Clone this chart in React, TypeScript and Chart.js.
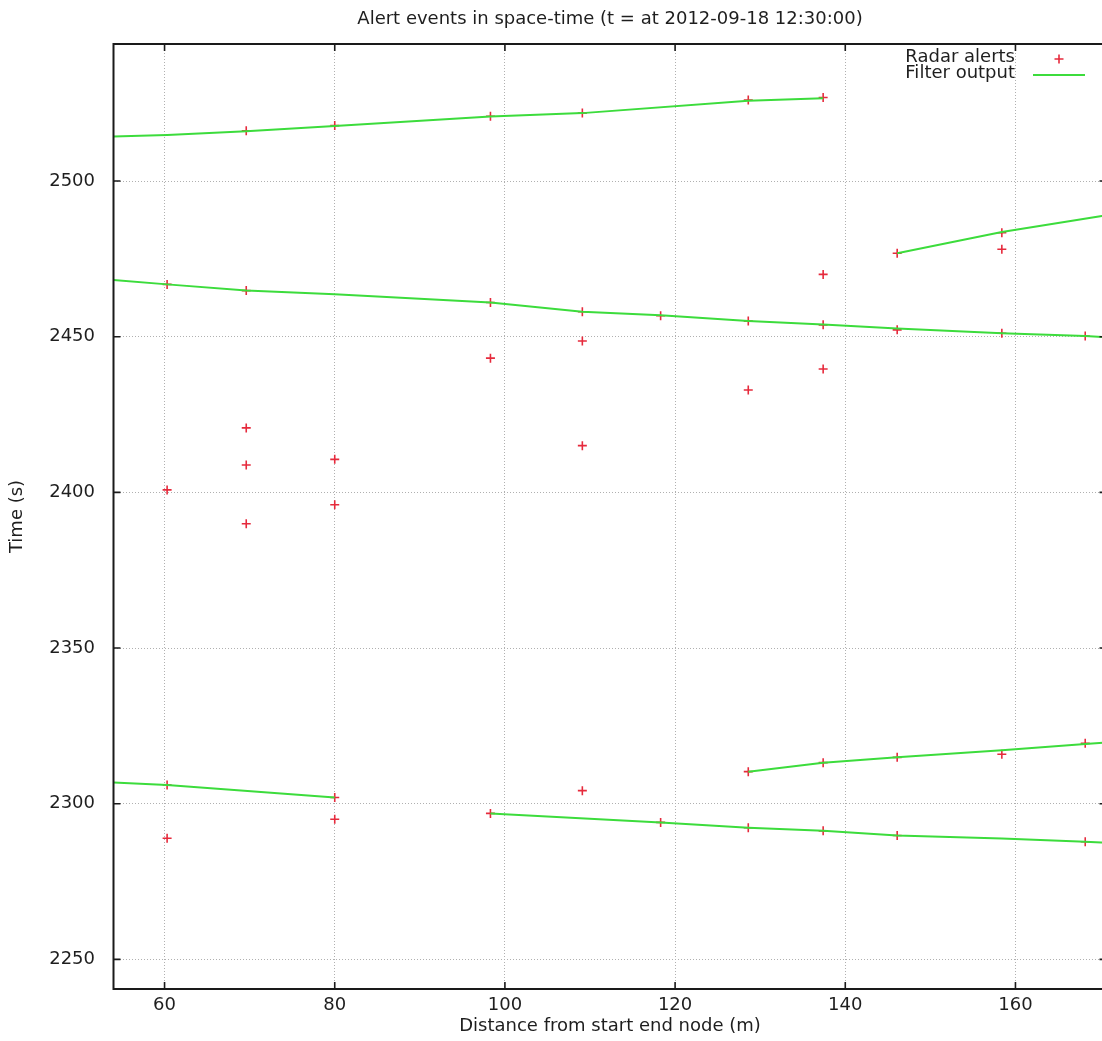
import { useEffect, useRef } from "react";
import { Chart, registerables } from "chart.js";

Chart.register(...registerables);

const xTicks = [60, 80, 100, 120, 140, 160];
const yTicks = [2250, 2300, 2350, 2400, 2450, 2500];

const alertDist = [
  69.6, 80.0, 98.3, 109.1, 128.6, 137.4,
  60.3, 69.6, 98.3, 109.1, 118.3, 128.6, 137.4, 146.1, 158.4, 168.2,
  146.1, 158.4, 158.4, 137.4, 137.4, 128.6, 109.1, 109.1, 98.3,
  80.0, 69.6, 69.6, 69.6, 80.0, 60.3,
  60.3, 80.0, 60.3, 80.0, 109.1,
  98.3, 118.3, 128.6, 137.4, 146.1, 168.2,
  128.6, 137.4, 146.1, 158.4, 168.2,
];
const alertTime = [
  2516.1, 2517.8, 2520.8, 2521.8, 2526.0, 2526.8,
  2466.8, 2464.8, 2461.0, 2458.0, 2456.7, 2455.0, 2453.8, 2452.2, 2451.1, 2450.2,
  2476.8, 2483.4, 2478.1, 2470.0, 2439.6, 2432.9, 2448.6, 2415.0, 2443.1,
  2410.6, 2420.7, 2408.8, 2389.9, 2396.0, 2400.8,
  2306.0, 2302.0, 2288.9, 2295.0, 2304.2,
  2296.9, 2294.0, 2292.3, 2291.3, 2289.8, 2287.8,
  2310.3, 2313.2, 2314.9, 2315.9, 2319.4,
];

const track1Dist = [54, 60.3, 69.6, 80.0, 98.3, 109.1, 128.6, 137.4];
const track1Time = [2514.3, 2514.8, 2516.0, 2517.7, 2520.7, 2521.8, 2525.8, 2526.6];

const track2Dist = [54, 60.3, 69.6, 80.0, 98.3, 109.1, 118.3, 128.6, 137.4, 146.1, 158.4, 168.2, 170.7];
const track2Time = [2468.2, 2466.8, 2464.8, 2463.6, 2461.0, 2458.0, 2456.9, 2455.0, 2453.9, 2452.6, 2451.1, 2450.2, 2449.8];

const track3Dist = [146.1, 158.4, 170.7];
const track3Time = [2476.8, 2483.6, 2489.0];

const track4Dist = [54, 60.3, 80.0];
const track4Time = [2306.8, 2306.0, 2302.0];

const track5Dist = [98.3, 118.3, 128.6, 137.4, 146.1, 158.4, 168.2, 170.7];
const track5Time = [2296.9, 2294.0, 2292.3, 2291.3, 2289.8, 2288.8, 2287.8, 2287.5];

const track6Dist = [128.6, 137.4, 146.1, 158.4, 168.2, 170.7];
const track6Time = [2310.3, 2313.2, 2314.9, 2317.2, 2319.2, 2319.7];

const tracks = [
  [track1Dist, track1Time],
  [track2Dist, track2Time],
  [track3Dist, track3Time],
  [track4Dist, track4Time],
  [track5Dist, track5Time],
  [track6Dist, track6Time],
];

const FONT = "'DejaVu Sans', sans-serif";
const TEXT = "#1e1e1e";
const RED = "#e62a3c";
const GREEN = "#3cdc3c";

const zip = (xs: number[], ys: number[]) => xs.map((x, i) => ({ x, y: ys[i] }));

export default function App() {
  const ref = useRef<HTMLCanvasElement>(null);

  useEffect(() => {
    if (!ref.current) return;

    const framePlugin = {
      id: "gnuFrame",
      afterDatasetsDraw(chart: any) {
        const { ctx, chartArea: a, scales } = chart;
        ctx.save();
        ctx.strokeStyle = "#1a1a1a";
        ctx.lineWidth = 1.6;
        ctx.beginPath();
        for (const t of xTicks) {
          const px = scales.x.getPixelForValue(t);
          ctx.moveTo(px, a.bottom);
          ctx.lineTo(px, a.bottom - 7);
          ctx.moveTo(px, a.top);
          ctx.lineTo(px, a.top + 7);
        }
        for (const t of yTicks) {
          const py = scales.y.getPixelForValue(t);
          ctx.moveTo(a.left, py);
          ctx.lineTo(a.left + 7, py);
          ctx.moveTo(a.right, py);
          ctx.lineTo(a.right - 7, py);
        }
        ctx.stroke();
        ctx.lineWidth = 2;
        ctx.strokeRect(a.left, a.top, a.right - a.left, a.bottom - a.top);
        ctx.restore();
      },
      afterDraw(chart: any) {
        const { ctx, chartArea: a } = chart;
        const tx = a.right - 91.5;
        ctx.save();
        ctx.font = `18px ${FONT}`;
        ctx.fillStyle = TEXT;
        ctx.textAlign = "right";
        ctx.textBaseline = "middle";
        ctx.fillText("Radar alerts", tx, a.top + 13);
        ctx.fillText("Filter output", tx, a.top + 29.5);
        const cx = a.right - 47.5;
        const cy = a.top + 15;
        ctx.strokeStyle = RED;
        ctx.lineWidth = 1.6;
        ctx.beginPath();
        ctx.moveTo(cx - 4.5, cy);
        ctx.lineTo(cx + 4.5, cy);
        ctx.moveTo(cx, cy - 4.5);
        ctx.lineTo(cx, cy + 4.5);
        ctx.stroke();
        ctx.strokeStyle = GREEN;
        ctx.lineWidth = 2;
        ctx.beginPath();
        ctx.moveTo(a.right - 73.5, a.top + 31);
        ctx.lineTo(a.right - 21.5, a.top + 31);
        ctx.stroke();
        ctx.restore();
      },
    };

    const lineSets = tracks.map(([xs, ys], i) => ({
      type: "line" as const,
      label: i === 0 ? "Filter output" : "",
      data: zip(xs, ys),
      borderColor: GREEN,
      backgroundColor: GREEN,
      borderWidth: 2,
      pointRadius: 0,
      showLine: true,
      fill: false,
      tension: 0,
      order: 0,
    }));

    const chart = new Chart(ref.current, {
      type: "scatter",
      data: {
        datasets: [
          {
            type: "scatter",
            label: "Radar alerts",
            data: zip(alertDist, alertTime),
            pointStyle: "cross",
            pointRadius: 4.5,
            borderColor: RED,
            backgroundColor: RED,
            borderWidth: 1.6,
            order: 1,
          } as any,
          ...lineSets,
        ],
      },
      options: {
        responsive: false,
        animation: false,
        layout: { padding: { left: 0, right: 13.5, top: 0, bottom: 0 } },
        plugins: {
          legend: { display: false },
          tooltip: { enabled: false },
          title: {
            display: true,
            text: "Alert events in space-time (t = at 2012-09-18 12:30:00)",
            fullSize: false,
            color: TEXT,
            font: { family: FONT, size: 18, weight: "normal" },
            padding: { top: 8.7, bottom: 13.7 },
          },
        },
        scales: {
          x: {
            type: "linear",
            min: 54,
            max: 170.7,
            afterBuildTicks: (s: any) => {
              s.ticks = xTicks.map((v) => ({ value: v }));
            },
            afterFit: (s: any) => {
              s.height = 52;
            },
            grid: { color: "#b0b0b0", lineWidth: 1, drawTicks: false },
            border: { display: false, dash: [1, 2] },
            ticks: {
              color: TEXT,
              font: { family: FONT, size: 18 },
              padding: 5.4,
              maxRotation: 0,
              callback: (v: any) => String(v),
            },
            title: {
              display: true,
              text: "Distance from start end node (m)",
              color: TEXT,
              font: { family: FONT, size: 18 },
              padding: 4,
            },
          },
          y: {
            type: "linear",
            min: 2240.5,
            max: 2544,
            afterBuildTicks: (s: any) => {
              s.ticks = yTicks.map((v) => ({ value: v }));
            },
            afterFit: (s: any) => {
              s.width = 113.5;
            },
            grid: { color: "#b0b0b0", lineWidth: 1, drawTicks: false },
            border: { display: false, dash: [1, 2] },
            ticks: {
              color: TEXT,
              font: { family: FONT, size: 18 },
              padding: 18.5,
              callback: (v: any) => String(v),
            },
            title: {
              display: true,
              text: "Time (s)",
              color: TEXT,
              font: { family: FONT, size: 18 },
              padding: 7,
            },
          },
        },
      },
      plugins: [framePlugin],
    } as any);

    return () => chart.destroy();
  }, []);

  return (
    <div
      style={{
        position: "absolute",
        left: 0,
        top: 0,
        width: 1102,
        height: 1041,
        overflow: "hidden",
        background: "#fff",
      }}
    >
      <canvas ref={ref} width={1120} height={1041} style={{ display: "block" }} />
    </div>
  );
}
